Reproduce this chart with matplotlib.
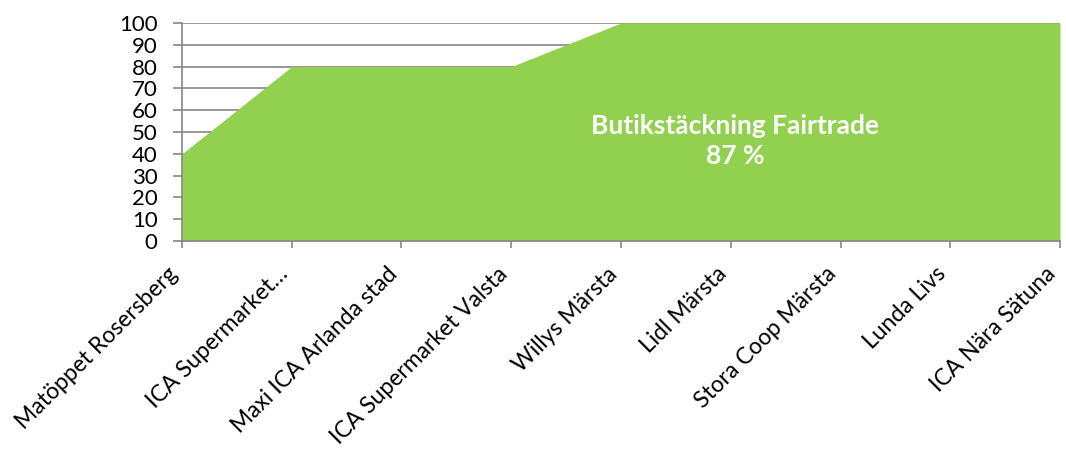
import matplotlib
matplotlib.use("Agg")
import matplotlib.pyplot as plt

categories = ["Matöppet Rosersberg", "ICA Supermarket…", "Maxi ICA Arlanda stad",
              "ICA Supermarket Valsta", "Willys Märsta", "Lidl Märsta",
              "Stora Coop Märsta", "Lunda Livs", "ICA Nära Sätuna"]
values = [40, 80, 80, 80, 100, 100, 100, 100, 100]
yticks = list(range(0, 101, 10))
annotation = "Butikstäckning Fairtrade\n87 %"

plt.rcParams['font.family'] = ['Lato', 'DejaVu Sans']

fig = plt.figure(figsize=(10.66, 4.55), dpi=100)
ax = fig.add_axes([0.1707, 0.4703, 0.9944 - 0.1707, 0.9495 - 0.4703])

x = list(range(len(categories)))
ax.fill_between(x, values, 0, color="#92D050", linewidth=0, zorder=2)

ax.set_xlim(0, len(categories) - 1)
ax.set_ylim(0, 100)
ax.set_yticks(yticks)
ax.set_yticklabels([str(t) for t in yticks], fontsize=16)
ax.set_xticks(x)
ax.set_xticklabels(categories, rotation=45, ha="right", va="top", fontsize=16.5)

ax.grid(axis="y", color="#868686", linewidth=1.2, zorder=1)
ax.set_axisbelow(True)
for s in ["top", "right"]:
    ax.spines[s].set_visible(False)
for s in ["left", "bottom"]:
    ax.spines[s].set_color("#868686")
    ax.spines[s].set_linewidth(1.2)
    ax.spines[s].set_zorder(3)
ax.tick_params(axis="x", color="#868686", width=1.2, length=5, pad=11)
ax.tick_params(axis="y", color="#868686", width=1.2, length=6.5, pad=11)

ax.text(5.04, 46, annotation, ha="center", va="center", color="white",
        fontsize=19, fontweight="bold", linespacing=1.3, zorder=4)

fig.savefig("out.png", dpi=100)
